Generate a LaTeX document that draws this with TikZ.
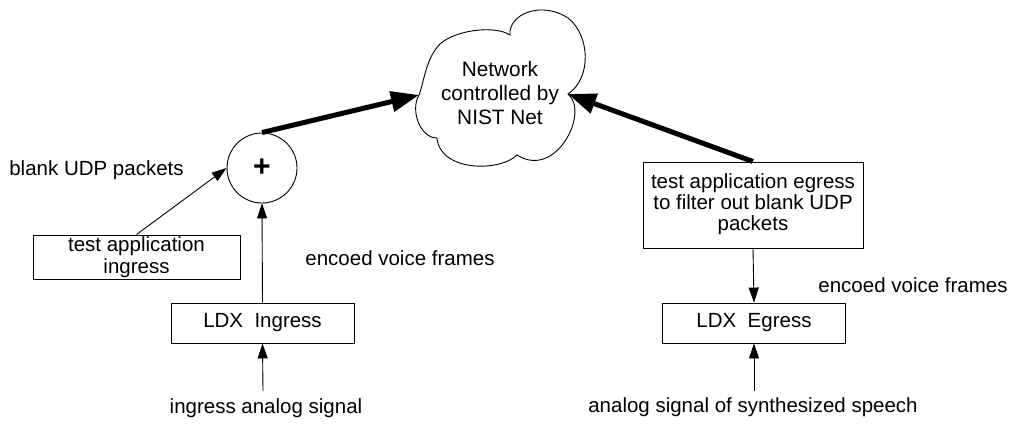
\documentclass[tikz,border=0pt]{standalone}
\usepackage{fontspec}
\setmainfont{Liberation Sans}
\usetikzlibrary{arrows.meta}

\begin{document}
\begin{tikzpicture}[x=1pt,y=-1pt,
  font=\fontsize{20.5}{22}\selectfont,
  box/.style={draw, line width=0.9pt, align=center, inner sep=0pt},
  thinarrow/.style={line width=0.9pt, -{Triangle[length=15pt,width=10pt]}},
  heavyarrow/.style={line width=5pt, -{Triangle[length=28pt,width=20pt]}},
  lbl/.style={inner sep=0pt}]
\useasboundingbox (0,0) rectangle (1011,429);

% network cloud: outline made of puffs, with cusps at the two inlets
\coordinate (netL) at (419,95);
\coordinate (netR) at (568,94);
\draw[line width=0.9pt]
  (netL) .. controls (424,82) and (426,58) .. (440,44)
         .. controls (455,30) and (495,25) .. (510,35)
         .. controls (508,15) and (540,0) .. (568,18)
         .. controls (590,35) and (592,78) .. (netR)
         .. controls (590,112) and (556,180) .. (517,155)
         .. controls (500,172) and (440,172) .. (437,138)
         .. controls (420,138) and (410,110) .. (netL) -- cycle;
\node[align=center, inner sep=0pt, font=\fontsize{20.8}{24}\selectfont]
      (net) at (500,93) {Network\\controlled by\\NIST Net};

% summing junction
\node[draw, circle, minimum size=70pt, inner sep=0pt, line width=0.9pt,
      font=\bfseries\fontsize{30}{30}\selectfont]
      (sum) at (262,168) {+};

% blocks
\node[box, minimum width=207pt, minimum height=44pt] (tai) at (136.5,257)
      {test application\\ingress};
\node[box, minimum width=183pt, minimum height=40pt] (ldxi) at (262.5,323)
      {LDX\ \ Ingress};
\node[box, minimum width=220pt, minimum height=86pt] (tae) at (753,205)
      {\raisebox{-1.5pt}{\begin{tabular}{@{}c@{}}test application egress\\[-1pt]to filter out blank UDP\\[-1pt]packets\end{tabular}}};
\node[box, minimum width=183pt, minimum height=40pt] (ldxe) at (754,323)
      {LDX\ \ Egress};

% labels
\node[lbl] (blank) at (96.5,170) {blank UDP packets};
\node[lbl] (encL) at (400,258) {encoed voice frames};
\node[lbl] (encR) at (913,285) {encoed voice frames};
\node[lbl] (ias) at (266,408) {ingress analog signal};
\node[lbl] (sss) at (753,407) {analog signal of synthesized speech};

% free ends of the input arrows
\coordinate (iin) at (263,391);
\coordinate (ein) at (754,391);

% connectors
\draw[thinarrow] (iin) -- (ldxi.south);
\draw[thinarrow] (ein) -- (ldxe.south);
\draw[thinarrow] (ldxi.north) -- (sum.south);
\draw[thinarrow] (tai.north) -- (sum.west);
\draw[thinarrow] (tae.south) -- (ldxe.north);
\draw[heavyarrow] (sum.north) -- (netL);
\draw[heavyarrow] (tae.north) -- (netR);
\end{tikzpicture}
\end{document}
